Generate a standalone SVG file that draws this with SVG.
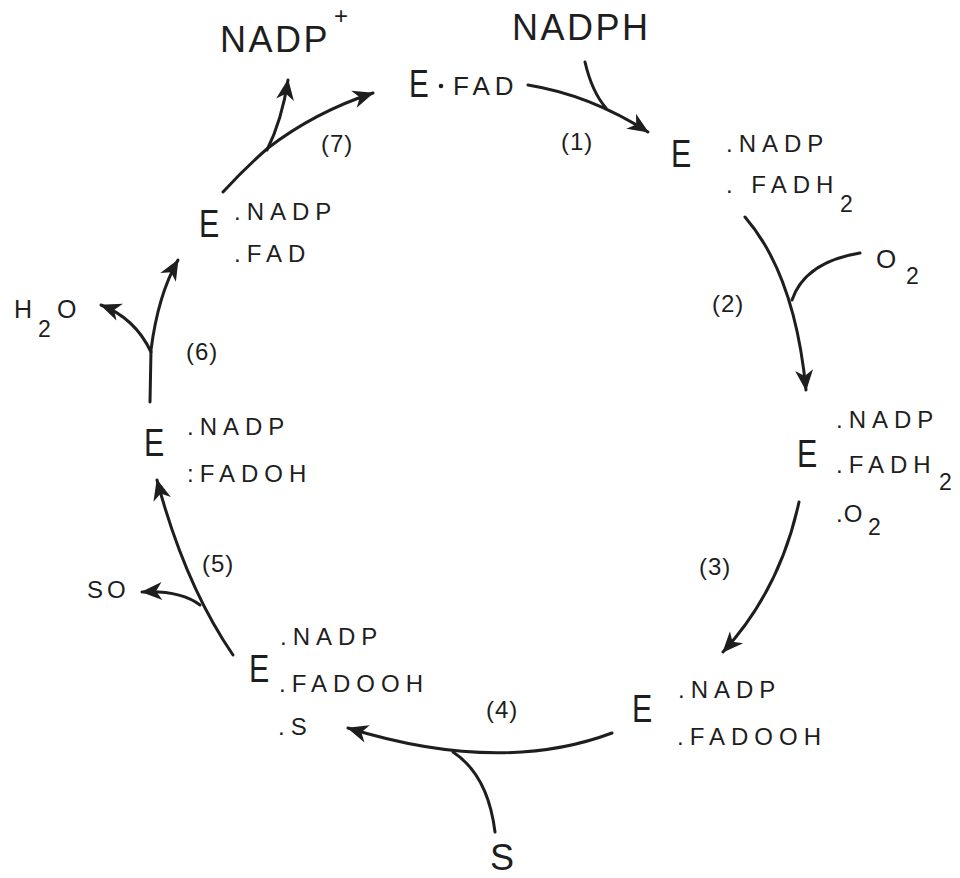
<svg xmlns="http://www.w3.org/2000/svg" width="960" height="878" viewBox="0 0 960 878">
<style>
text{font-family:"Liberation Sans","Noto Sans",Arial,sans-serif;fill:#1e1e1e}
.big{font-size:38px}
.sub{font-size:24px;letter-spacing:6px}
.num{font-size:24px;letter-spacing:1px}
.ttl{font-size:36px;letter-spacing:2.5px}
.s2{font-size:23px}
.ln{fill:none;stroke:#1e1e1e;stroke-width:3;stroke-linecap:round}
.arr{marker-end:url(#ah)}
</style>
<defs>
<marker id="ah" viewBox="-22 -11 24 22" markerWidth="24" markerHeight="22" refX="0" refY="0" orient="auto" markerUnits="userSpaceOnUse">
<path d="M1,0 L-20,-9 L-14,0 L-20,9 Z" fill="#1e1e1e"/>
</marker>
</defs>
<rect width="960" height="878" fill="#fff"/>

<g id="connectors">
<path class="ln arr" d="M528,85 Q590,95 648,132"/>
<path class="ln" d="M585,62 Q592,92 606,108"/>
<path class="ln arr" d="M745,217 Q795,275 806,390"/>
<path class="ln" d="M860,253 Q805,262 792,300"/>
<path class="ln arr" d="M799,502 Q780,590 723,652"/>
<path class="ln arr" d="M612,733 Q500,775 348,728"/>
<path class="ln" d="M495,832 Q488,775 453,752"/>
<path class="ln arr" d="M233,655 Q185,585 157,480"/>
<path class="ln arr" d="M200,605 Q180,590 142,592"/>
<path class="ln arr" d="M150,402 L151,350 Q158,295 178,260"/>
<path class="ln arr" d="M151,352 Q135,318 101,305"/>
<path class="ln arr" d="M223,192 Q245,168 268,148 Q315,112 373,93"/>
<path class="ln arr" d="M267,150 Q282,120 288,80"/>
</g>

<g id="nadp-plus">
<text class="ttl" x="220" y="52">NADP</text>
<text x="334" y="24" style="font-size:24px">+</text>
</g>
<g id="nadph">
<text class="ttl" x="512" y="40">NADPH</text>
</g>

<g id="e-fad">
<text class="big" transform="translate(409,97) scale(0.78,1)">E</text>
<circle cx="441" cy="86" r="2.3" fill="#1e1e1e"/>
<text x="453" y="95" style="font-size:26px;letter-spacing:5px">FAD</text>
</g>

<g id="e-nadp-fadh2">
<text class="big" transform="translate(671,167) scale(0.8,1)">E</text>
<text class="sub" x="726" y="152">.NADP</text>
<text class="sub" x="726" y="193">. FADH</text>
<text class="s2" x="840" y="212">2</text>
</g>

<g id="o2-in">
<text x="876" y="268" style="font-size:26px">O</text>
<text class="s2" x="906" y="284">2</text>
</g>

<g id="e-nadp-fadh2-o2">
<text class="big" transform="translate(797,467) scale(0.8,1)">E</text>
<text class="sub" x="836" y="428">.NADP</text>
<text class="sub" x="836" y="473">.FADH</text>
<text class="s2" x="939" y="490">2</text>
<text x="836" y="522" style="font-size:24px;letter-spacing:1px">.O</text>
<text class="s2" x="868" y="535">2</text>
</g>

<g id="e-nadp-fadooh">
<text class="big" transform="translate(632,722) scale(0.8,1)">E</text>
<text class="sub" x="678" y="698">.NADP</text>
<text class="sub" x="677" y="745">.FADOOH</text>
</g>

<g id="s-in">
<text x="490" y="870" style="font-size:36px">S</text>
</g>

<g id="e-nadp-fadooh-s">
<text class="big" transform="translate(249,682) scale(0.8,1)">E</text>
<text class="sub" x="280" y="645">.NADP</text>
<text class="sub" x="279" y="692">.FADOOH</text>
<text class="sub" x="278" y="735">.S</text>
</g>

<g id="so-out">
<text x="87" y="598" style="font-size:24px;letter-spacing:4px">SO</text>
</g>

<g id="e-nadp-fadoh">
<text class="big" transform="translate(144,456) scale(0.8,1)">E</text>
<text class="sub" x="187" y="435">.NADP</text>
<text class="sub" x="187" y="482">:FADOH</text>
</g>

<g id="h2o-out">
<text x="14" y="318" style="font-size:25px">H</text>
<text class="s2" x="38" y="337">2</text>
<text x="57" y="318" style="font-size:25px">O</text>
</g>

<g id="e-nadp-fad">
<text class="big" transform="translate(199,237) scale(0.8,1)">E</text>
<text class="sub" x="234" y="220">.NADP</text>
<text class="sub" x="234" y="262">.FAD</text>
</g>

<g id="step-labels">
<text class="num" x="561" y="150">(1)</text>
<text class="num" x="712" y="312">(2)</text>
<text class="num" x="699" y="575">(3)</text>
<text class="num" x="486" y="718">(4)</text>
<text class="num" x="202" y="572">(5)</text>
<text class="num" x="186" y="360">(6)</text>
<text class="num" x="321" y="152">(7)</text>
</g>
</svg>
